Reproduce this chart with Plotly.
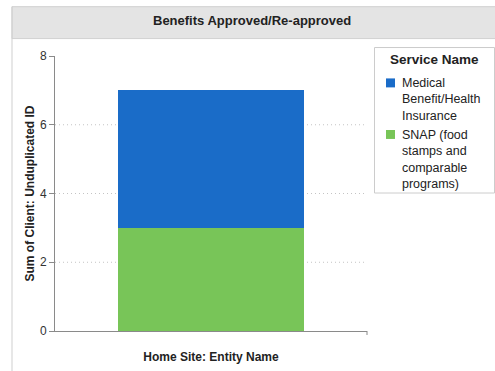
import plotly.graph_objects as go

# Data
category = [""]
series_names = ["SNAP (food<br>stamps and<br>comparable<br>programs)",
                "Medical<br>Benefit/Health<br>Insurance"]
snap_values = [3]
medical_values = [4]
series_colors = ["#78c558", "#1a6cc8"]
y_ticks = [0, 2, 4, 6, 8]
legend_title = "Service Name"

W, H = 495, 371
L, R, T, B = 55, 128, 55.5, 39.5
pw, ph = W - L - R, H - T - B


def px_x(x):
    return (x - L) / pw


def px_y(y):
    return (H - B - y) / ph


FONT = "Liberation Sans, Arial, sans-serif"

fig = go.Figure()
for name, vals, col in zip(series_names, [snap_values, medical_values], series_colors):
    fig.add_trace(go.Bar(x=category, y=vals, name=name.replace("<br>", " "),
                         marker_color=col, marker_line_width=0, width=0.593,
                         showlegend=False))

shapes = []
annotations = []
# dotted grid lines at interior ticks
for t in y_ticks[1:-1]:
    shapes.append(dict(type="line", xref="paper", yref="y", x0=0, x1=1, y0=t, y1=t,
                       line=dict(color="#c4c4c4", width=1, dash="1px,3px"), layer="below"))
# header band with frame
shapes.append(dict(type="rect", xref="paper", yref="paper",
                   x0=px_x(12), x1=px_x(497), y0=px_y(38), y1=px_y(6),
                   fillcolor="#e4e4e4", line=dict(color="#d0d0d0", width=1), layer="below"))
shapes.append(dict(type="line", xref="paper", yref="paper",
                   x0=px_x(12), x1=px_x(12), y0=px_y(6), y1=px_y(372),
                   line=dict(color="#cfcfcf", width=1)))
# small end tick on x axis
shapes.append(dict(type="line", xref="paper", yref="paper",
                   x0=1, x1=1, y0=0, y1=px_y(H - B + 4),
                   line=dict(color="#8a8a8a", width=1)))

annotations.append(dict(text="<b>Benefits Approved/Re-approved</b>", xref="paper", yref="paper",
                        x=px_x(252), y=px_y(20), xanchor="center", yanchor="middle",
                        showarrow=False, font=dict(family=FONT, size=13, color="#222")))

# legend panel: framed box, bold title, colour swatch and wrapped label per series
shapes.append(dict(type="rect", xref="paper", yref="paper",
                   x0=px_x(374.5), x1=px_x(494.5), y0=px_y(193), y1=px_y(47),
                   fillcolor="white", line=dict(color="#cccccc", width=1)))
annotations.append(dict(text=f"<b>{legend_title}</b>", xref="paper", yref="paper",
                        x=px_x(434.5), y=px_y(59), xanchor="center", yanchor="middle",
                        showarrow=False, font=dict(family=FONT, size=13.5, color="#222")))
label_size = 12.5
line_h = label_size * 1.3
entry_gap, first_line = 3, 83
y_line = first_line
for name, col in zip(reversed(series_names), reversed(series_colors)):
    n_lines = len(name.split("<br>"))
    shapes.append(dict(type="rect", xref="paper", yref="paper",
                       x0=px_x(386), x1=px_x(395), y0=px_y(y_line + 4), y1=px_y(y_line - 5),
                       fillcolor=col, line=dict(width=0)))
    annotations.append(dict(text=name, xref="paper", yref="paper", align="left",
                            x=px_x(400), y=px_y(y_line - line_h / 2 - 1),
                            xanchor="left", yanchor="top", showarrow=False,
                            font=dict(family=FONT, size=label_size, color="#222")))
    y_line += n_lines * line_h + entry_gap

fig.update_layout(shapes=shapes, annotations=annotations)

fig.update_layout(
    width=W, height=H,
    margin=dict(l=L, r=R, t=T, b=B, pad=0, autoexpand=False),
    paper_bgcolor="white", plot_bgcolor="white",
    barmode="stack",
    font=dict(family=FONT, size=12, color="#333"),
    xaxis=dict(
        range=[-0.5, 0.5], showgrid=False, showticklabels=False, ticks="",
        showline=True, linecolor="#8a8a8a", linewidth=1, zeroline=False,
        title=dict(text="<b>Home Site: Entity Name</b>", standoff=21,
                   font=dict(family=FONT, size=12, color="#222")),
        fixedrange=True, automargin=False,
    ),
    yaxis=dict(
        range=[0, 8], tickvals=y_ticks, showgrid=False, zeroline=False,
        showline=True, linecolor="#8a8a8a", linewidth=1,
        ticks="outside", ticklen=5, tickcolor="#8a8a8a",
        tickfont=dict(family=FONT, size=12, color="#333"),
        title=dict(text="<b>Sum of Client: Unduplicated ID</b>", standoff=2,
                   font=dict(family=FONT, size=12, color="#222")),
        fixedrange=True, automargin=False,
    ),
)

fig.write_html("out.html", config={"displayModeBar": False})
